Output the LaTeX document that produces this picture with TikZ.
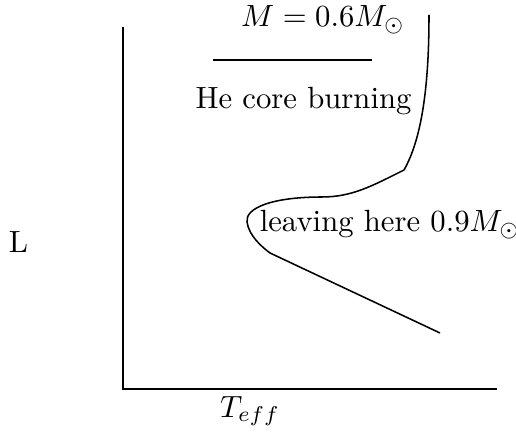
\documentclass[tikz,border=0pt]{standalone}
\begin{document}
\begin{tikzpicture}[x=0.3257pt,y=-0.3257pt,
  lbl/.style={anchor=base,inner sep=0pt,outer sep=0pt},
  trk/.style={line width=0.5pt}]
\useasboundingbox (0,0) rectangle (516,436);
% axes
\coordinate (ytop) at (123,27);
\coordinate (orig) at (123,389);
\coordinate (xend) at (497,389);
\draw (ytop) -- (orig) -- (xend);
% labels
\node[lbl] (L) at (18.5,253) {L};
\node[lbl] (T) at (250,417) {$T_{eff}$};
\node[lbl] (M) at (323,27) {$M=0.6M_\odot$};
\node[lbl] (He) at (303.5,109) {He core burning};
\node[lbl] (leave) at (390,232) {leaving here $0.9M_\odot$};
% separator line
\coordinate (la) at (213,60);
\coordinate (lb) at (372,60);
\draw (la) -- (lb);
% evolutionary track
\coordinate (t0) at (429,15);
\coordinate (kink) at (404,170);
\coordinate (t1) at (322,197);
\coordinate (t2) at (247,222);
\coordinate (t3) at (270,253);
\coordinate (t4) at (440,333);
\draw[trk] (t0) .. controls (429,90) and (421,140) .. (kink)
  .. controls (372,186) and (352,197) .. (t1)
  .. controls (272,197) and (245,208) .. (t2)
  .. controls (249,236) and (262,247) .. (t3)
  -- (t4);
\end{tikzpicture}
\end{document}
